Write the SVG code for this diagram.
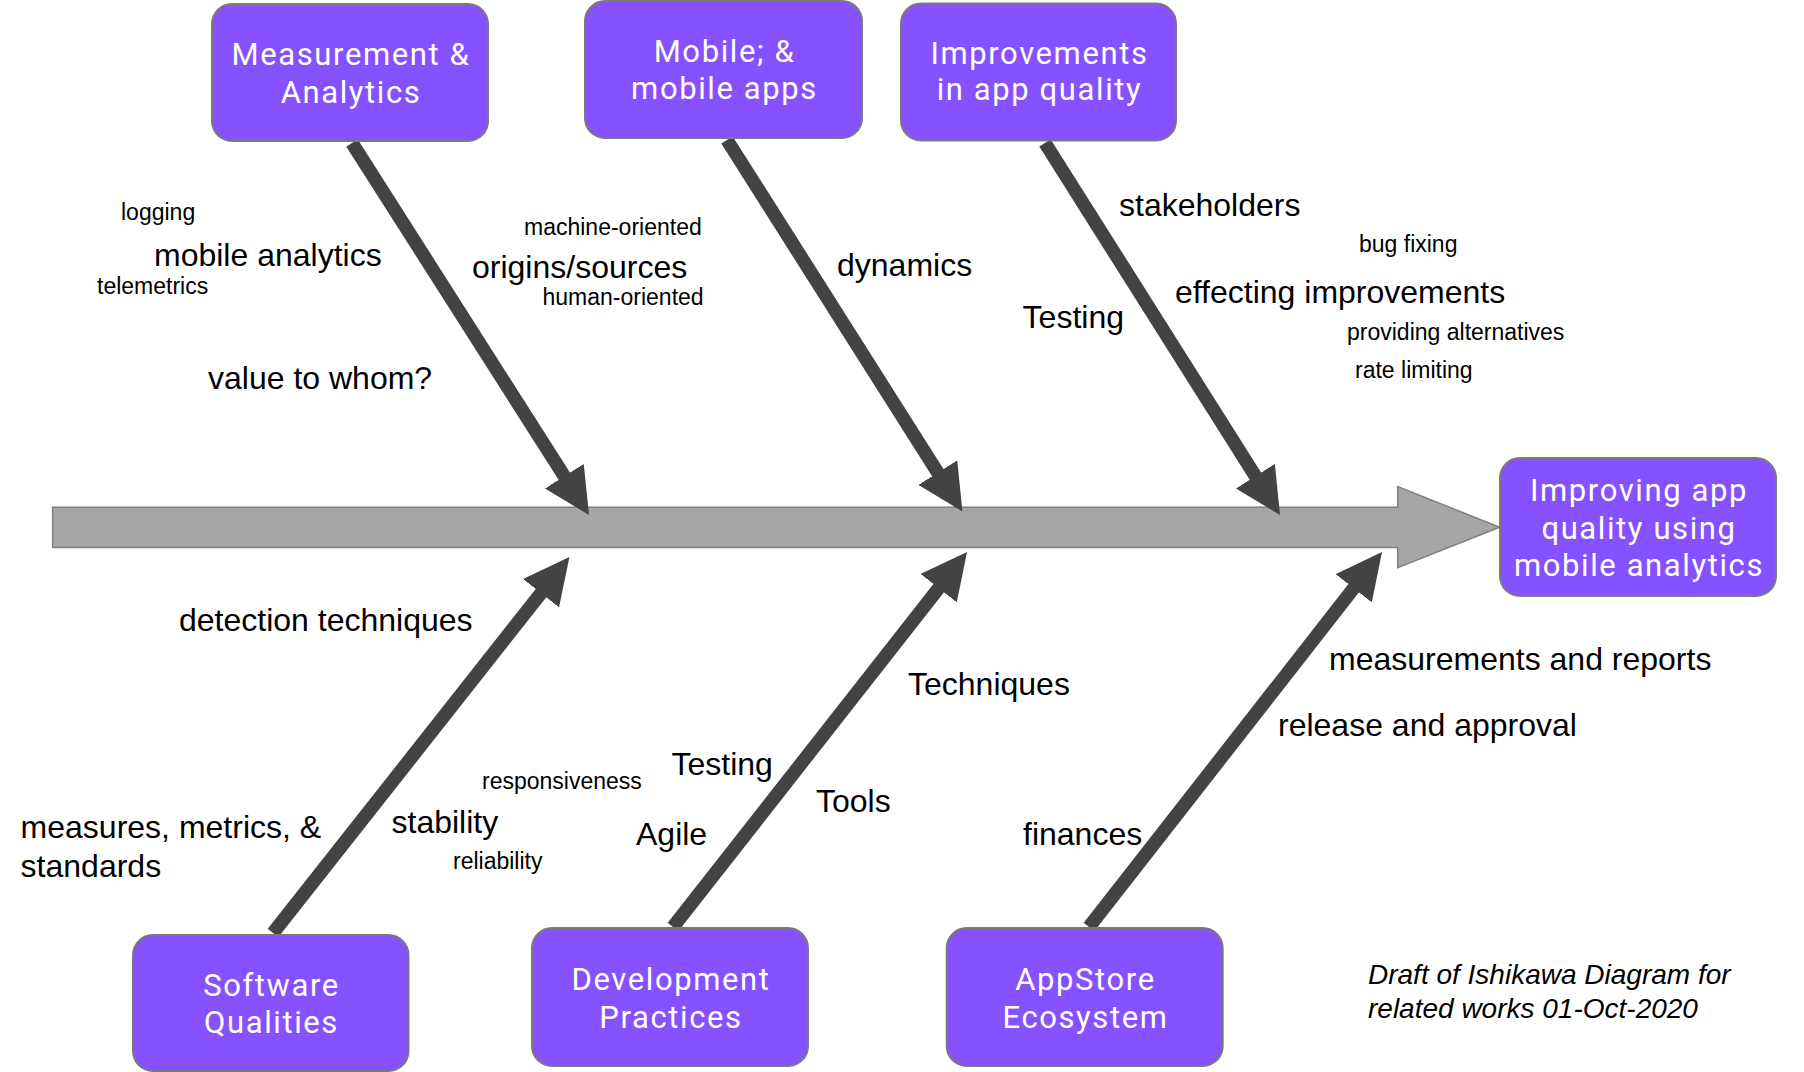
<svg xmlns="http://www.w3.org/2000/svg" width="1804" height="1072" viewBox="0 0 1804 1072">
<style>
.box{fill:#8651fe;stroke:#7a7a7a;stroke-width:2}
.bt{font-family:Roboto,"Liberation Sans",sans-serif;font-size:31px;fill:#ffffff;text-anchor:middle;letter-spacing:1.6px}
.bone{stroke:#434343;stroke-width:13.5;fill:none;marker-end:url(#ah)}
.lg{font-family:"Liberation Sans",Arial,sans-serif;font-size:32px;fill:#000}
.sm{font-family:"Liberation Sans",Arial,sans-serif;font-size:23px;fill:#000}
.it{font-family:"Liberation Sans",Arial,sans-serif;font-size:28px;font-style:italic;fill:#000}
</style>
<defs>
<marker id="ah" markerUnits="userSpaceOnUse" viewBox="0 -23 46 46" markerWidth="46" markerHeight="46" refX="2" refY="0" orient="auto">
<path d="M0,-23 L46,0 L0,23 z" fill="#434343"/>
</marker>
</defs>
<rect width="1804" height="1072" fill="#ffffff"/>
<g id="spine">
<polygon points="52.6,507.3 1397.7,507.3 1397.7,486.5 1499.6,527.3 1397.7,567.6 1397.7,547.6 52.6,547.6" fill="#a6a6a6" stroke="#7f7f7f" stroke-width="1.5"/>
</g>
<g id="connectors">
<line class="bone" x1="352" y1="143" x2="565.4" y2="477.9"/>
<line class="bone" x1="727" y1="140" x2="938.9" y2="474.3"/>
<line class="bone" x1="1045" y1="143" x2="1256.5" y2="477.8"/>
<line class="bone" x1="273" y1="933" x2="542.2" y2="591.6"/>
<line class="bone" x1="673" y1="927" x2="939.9" y2="586.6"/>
<line class="bone" x1="1089" y1="927" x2="1354.9" y2="586.7"/>
</g>
<g id="n-measurement">
<rect class="box" x="212" y="4" width="276" height="137" rx="20"/>
<text class="bt" x="351" y="65">Measurement &amp;</text>
<text class="bt" x="351" y="103">Analytics</text>
</g>
<g id="n-mobile">
<rect class="box" x="585" y="1" width="277" height="137" rx="20"/>
<text class="bt" x="724.5" y="62">Mobile; &amp;</text>
<text class="bt" x="724.5" y="99">mobile apps</text>
</g>
<g id="n-improvements">
<rect class="box" x="901" y="3.5" width="275" height="137" rx="20"/>
<text class="bt" x="1039.5" y="64">Improvements</text>
<text class="bt" x="1039.5" y="100">in app quality</text>
</g>
<g id="n-effect">
<rect class="box" x="1500" y="458" width="276" height="138" rx="20"/>
<text class="bt" x="1639" y="501">Improving app</text>
<text class="bt" x="1639" y="538.5">quality using</text>
<text class="bt" x="1639" y="576">mobile analytics</text>
</g>
<g id="n-software">
<rect class="box" x="133" y="935" width="275.5" height="136" rx="20"/>
<text class="bt" x="271.5" y="996">Software</text>
<text class="bt" x="271.5" y="1033">Qualities</text>
</g>
<g id="n-development">
<rect class="box" x="532" y="928" width="276" height="138" rx="20"/>
<text class="bt" x="671" y="989.6">Development</text>
<text class="bt" x="671" y="1028">Practices</text>
</g>
<g id="n-appstore">
<rect class="box" x="946.7" y="928" width="276" height="138" rx="20"/>
<text class="bt" x="1085.5" y="989.6">AppStore</text>
<text class="bt" x="1085.5" y="1028">Ecosystem</text>
</g>
<g id="labels">
<text class="sm" x="121" y="220">logging</text>
<text class="lg" x="154" y="266">mobile analytics</text>
<text class="sm" x="97" y="294">telemetrics</text>
<text class="lg" x="208" y="389">value to whom?</text>
<text class="sm" x="524" y="235">machine-oriented</text>
<text class="lg" x="472" y="278">origins/sources</text>
<text class="sm" x="542.5" y="305">human-oriented</text>
<text class="lg" x="837" y="276">dynamics</text>
<text class="lg" x="1022.6" y="328">Testing</text>
<text class="lg" x="1119" y="216">stakeholders</text>
<text class="sm" x="1359" y="252">bug fixing</text>
<text class="lg" x="1175" y="303">effecting improvements</text>
<text class="sm" x="1347" y="340">providing alternatives</text>
<text class="sm" x="1355" y="378">rate limiting</text>
<text class="lg" x="179" y="631">detection techniques</text>
<text class="lg" x="20.6" y="838">measures, metrics, &amp;</text>
<text class="lg" x="20.6" y="877">standards</text>
<text class="lg" x="391.5" y="833">stability</text>
<text class="sm" x="482" y="789">responsiveness</text>
<text class="sm" x="453" y="869">reliability</text>
<text class="lg" x="908" y="695">Techniques</text>
<text class="lg" x="671.5" y="775">Testing</text>
<text class="lg" x="636" y="845">Agile</text>
<text class="lg" x="816" y="812">Tools</text>
<text class="lg" x="1023" y="845">finances</text>
<text class="lg" x="1329" y="669.5">measurements and reports</text>
<text class="lg" x="1278" y="736">release and approval</text>
<text class="it" x="1368" y="984">Draft of Ishikawa Diagram for</text>
<text class="it" x="1368" y="1017.5">related works 01-Oct-2020</text>
</g>
</svg>
